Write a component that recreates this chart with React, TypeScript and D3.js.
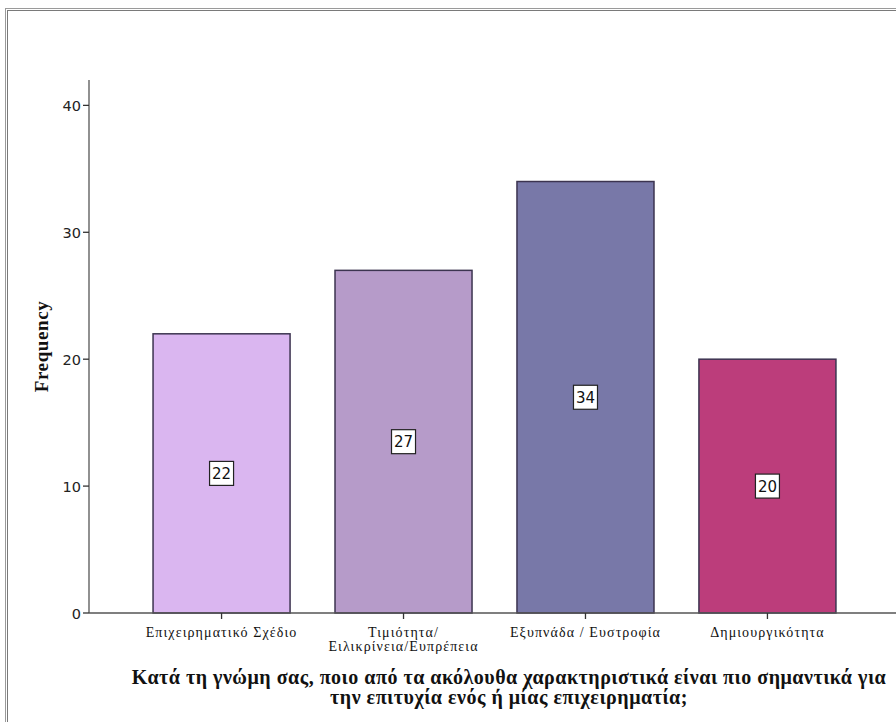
import React from "react";
import * as d3 from "d3";

const categories = [
  ["Επιχειρηματικό Σχέδιο"],
  ["Τιμιότητα/", "Ειλικρίνεια/Ευπρέπεια"],
  ["Εξυπνάδα / Ευστροφία"],
  ["Δημιουργικότητα"],
];
const values = [22, 27, 34, 20];
const colors = ["#dab6f0", "#b69bc9", "#7878a8", "#bc3d7b"];
const yTicks = [0, 10, 20, 30, 40];
const yTitle = "Frequency";
const xTitle = [
  "Κατά τη γνώμη σας, ποιο από τα ακόλουθα χαρακτηριστικά είναι πιο σημαντικά για",
  "την επιτυχία ενός ή μίας επιχειρηματία;",
];

export default function App() {
  const W = 896, H = 722;
  const x0 = 89, x1 = 900;
  const y = d3.scaleLinear().domain([0, 42]).range([613, 80]);
  const x = d3
    .scaleBand<number>()
    .domain(d3.range(values.length))
    .range([x0, x1])
    .paddingInner(0.247)
    .paddingOuter(0.352);
  const bw = x.bandwidth();
  return (
    <svg
      width={W}
      height={H}
      style={{ position: "absolute", left: 0, top: 0, background: "#fff" }}
    >
      <rect x={0} y={0} width={W} height={H} fill="#fff" />
      {/* frame */}
      <rect x={5.5} y={8.5} width={W + 10} height={H + 10} fill="none" stroke="#9a9a9a" strokeWidth={1} />
      <rect x={7.5} y={10.5} width={W + 10} height={H + 10} fill="none" stroke="#7a7a7a" strokeWidth={1} />
      {/* bars */}
      {values.map((v, i) => (
        <rect
          key={i}
          x={x(i)!}
          y={y(v)}
          width={bw}
          height={y(0) - y(v)}
          fill={colors[i]}
          stroke="#3c3450"
          strokeWidth={1.5}
        />
      ))}
      {/* value labels */}
      {values.map((v, i) => {
        const cx = x(i)! + bw / 2;
        const cy = y(v / 2);
        return (
          <g key={"l" + i}>
            <rect x={cx - 12} y={cy - 12} width={24} height={24} fill="#fff" stroke="#222" strokeWidth={1.2} />
            <text
              x={cx}
              y={cy + 5.5}
              textAnchor="middle"
              fontFamily="DejaVu Sans, sans-serif"
              fontSize={15}
              fill="#111"
            >
              {v}
            </text>
          </g>
        );
      })}
      {/* y axis */}
      <line x1={x0} x2={x0} y1={y(42)} y2={y(0)} stroke="#555" strokeWidth={1.3} />
      {yTicks.map((t) => (
        <g key={"t" + t}>
          <line x1={x0 - 6} x2={x0} y1={y(t)} y2={y(t)} stroke="#333" strokeWidth={1.3} />
          <text
            x={x0 - 8}
            y={y(t) + 5.5}
            textAnchor="end"
            fontFamily="DejaVu Sans, sans-serif"
            fontSize={14.5}
            fill="#222"
          >
            {t}
          </text>
        </g>
      ))}
      {/* x axis */}
      <line x1={x0} x2={W} y1={y(0)} y2={y(0)} stroke="#555" strokeWidth={1.3} />
      {values.map((_, i) => {
        const cx = x(i)! + bw / 2;
        return (
          <g key={"x" + i}>
            <line x1={cx} x2={cx} y1={y(0)} y2={y(0) + 6} stroke="#333" strokeWidth={1.3} />
            {categories[i].map((s, j) => (
              <text
                key={j}
                x={cx}
                y={y(0) + 24 + j * 14}
                textAnchor="middle"
                fontFamily="Liberation Serif, serif"
                fontSize={14}
                letterSpacing={1.1}
                fill="#111"
              >
                {s}
              </text>
            ))}
          </g>
        );
      })}
      {/* axis titles */}
      <text
        transform={`translate(48, ${y(21)}) rotate(-90)`}
        textAnchor="middle"
        fontFamily="Liberation Serif, serif"
        fontWeight="bold"
        fontSize={19}
        letterSpacing={0.6}
        fill="#111"
      >
        {yTitle}
      </text>
      {xTitle.map((s, j) => (
        <text
          key={"xt" + j}
          x={509}
          y={684 + j * 20}
          textAnchor="middle"
          fontFamily="Liberation Serif, serif"
          fontWeight="bold"
          fontSize={20}
          letterSpacing={0.5}
          fill="#111"
        >
          {s}
        </text>
      ))}
    </svg>
  );
}
